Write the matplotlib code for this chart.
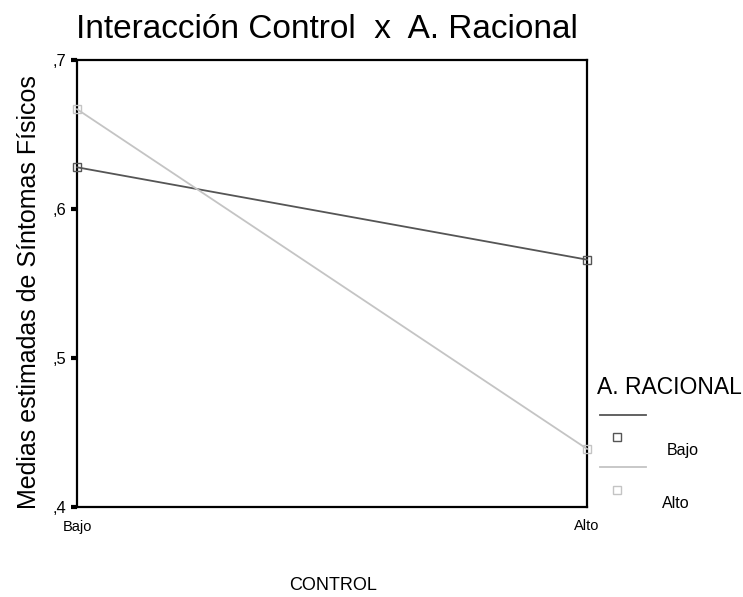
import matplotlib.pyplot as plt
from matplotlib.lines import Line2D

plt.rcParams['font.family'] = ['Liberation Sans', 'DejaVu Sans']

control = ["Bajo", "Alto"]
racional_bajo = [0.628, 0.566]
racional_alto = [0.667, 0.439]
yticks = [0.4, 0.5, 0.6, 0.7]
ytick_labels = [",4", ",5", ",6", ",7"]

dark = "#555555"
light = "#c4c4c4"

fig = plt.figure(figsize=(7.43, 5.97), dpi=100)
ax = fig.add_axes([77 / 743, 1 - 507 / 597, 510 / 743, 447 / 597])

xs = range(len(control))
ax.plot(xs, racional_bajo, color=dark, lw=1.3, marker="s", ms=6,
        mfc="none", mec=dark, mew=1.0, clip_on=False, zorder=3)
ax.plot(xs, racional_alto, color=light, lw=1.3, marker="s", ms=6,
        mfc="none", mec=light, mew=1.0, clip_on=False, zorder=3)

ax.set_xlim(0, 1)
ax.set_ylim(0.4, 0.7)
ax.set_xticks(list(xs))
ax.set_xticklabels(control, fontsize=10.5)
ax.set_yticks(yticks)
ax.set_yticklabels(ytick_labels, fontsize=12)
ax.tick_params(axis="y", direction="out", length=4, width=3, pad=4)
ax.tick_params(axis="x", direction="out", length=0, width=0, pad=9)
for s in ax.spines.values():
    s.set_linewidth(1.6)
    s.set_color("black")

ax.set_ylabel("Medias estimadas de Síntomas Físicos", fontsize=18)
ax.yaxis.set_label_coords(-0.07, 0.481)
fig.text(333 / 743, 1 - 585 / 597, "CONTROL", fontsize=13, ha="center", va="center")
fig.text(327 / 743, 1 - 30 / 597, "Interacción Control  x  A. Racional", fontsize=24,
         ha="center", va="center")

# legend drawn by hand to match the layout
fig.text(597 / 743, 1 - 388 / 597, "A. RACIONAL", fontsize=16.5, ha="left", va="center")
fig.add_artist(Line2D([600 / 743, 646 / 743], [1 - 415 / 597] * 2, color=dark, lw=1.3,
                      transform=fig.transFigure))
fig.add_artist(Line2D([617 / 743], [1 - 437 / 597], color=dark, marker="s", ms=6,
                      mfc="none", mec=dark, transform=fig.transFigure))
fig.text(667 / 743, 1 - 450 / 597, "Bajo", fontsize=11.5, ha="left", va="center")
fig.add_artist(Line2D([600 / 743, 646 / 743], [1 - 467 / 597] * 2, color=light, lw=1.3,
                      transform=fig.transFigure))
fig.add_artist(Line2D([617 / 743], [1 - 490 / 597], color=light, marker="s", ms=6,
                      mfc="none", mec=light, transform=fig.transFigure))
fig.text(662 / 743, 1 - 503 / 597, "Alto", fontsize=11.5, ha="left", va="center")

fig.savefig("out.png", dpi=100)
